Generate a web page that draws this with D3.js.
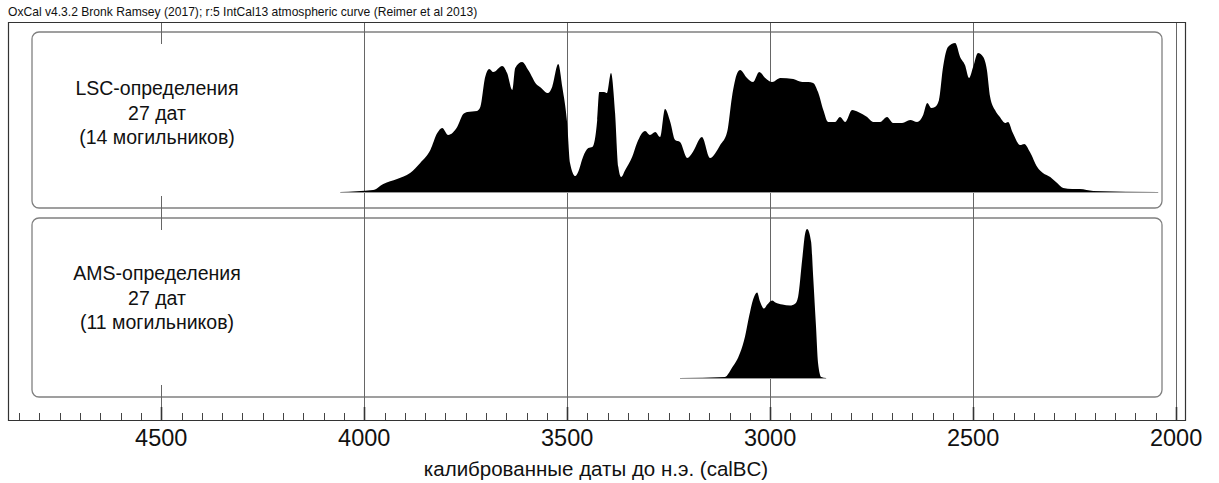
<!DOCTYPE html>
<html><head><meta charset="utf-8">
<script src="https://cdn.jsdelivr.net/npm/d3@7"></script>
<style>body{margin:0;background:#fff}svg{display:block;font-family:"Liberation Sans",Arial,sans-serif}</style>
</head><body><svg id="c" width="1219" height="483"></svg>
<script>
const title = "OxCal v4.3.2 Bronk Ramsey (2017); r:5 IntCal13 atmospheric curve (Reimer et al 2013)";
const axisTitle = "калиброванные даты до н.э. (calBC)";
const majorTicks = [4500, 4000, 3500, 3000, 2500, 2000];
const lscLabel = ["LSC-определения", "27 дат", "(14 могильников)"];
const amsLabel = ["AMS-определения", "27 дат", "(11 могильников)"];
// calBC year, relative probability
const lscYears = [4059,3978,3953,3919,3887,3862,3837,3820,3808,3793,3771,3756,3746,3722,3714,3702,3692,3682,3660,3648,3635,3628,3611,3596,3574,3567,3547,3537,3522,3512,3500,3493,3480,3473,3461,3448,3438,3426,3421,3409,3402,3392,3382,3374,3367,3357,3340,3328,3308,3296,3283,3271,3259,3246,3234,3222,3204,3192,3168,3148,3123,3106,3094,3081,3074,3057,3042,3027,3012,2995,2975,2943,2921,2906,2894,2882,2869,2857,2840,2828,2815,2798,2783,2761,2746,2729,2712,2697,2675,2655,2638,2623,2613,2603,2594,2584,2574,2562,2544,2532,2520,2510,2500,2488,2475,2466,2458,2446,2434,2421,2414,2402,2384,2374,2360,2342,2328,2310,2293,2278,2256,2237,2204,2044];
const lscProb = [0,0.013,0.054,0.087,0.128,0.195,0.282,0.396,0.430,0.383,0.436,0.523,0.537,0.544,0.570,0.772,0.826,0.805,0.846,0.799,0.685,0.832,0.872,0.819,0.718,0.705,0.664,0.705,0.859,0.705,0.463,0.195,0.107,0.134,0.235,0.295,0.302,0.483,0.671,0.671,0.664,0.799,0.530,0.168,0.101,0.148,0.235,0.329,0.409,0.383,0.403,0.369,0.557,0.470,0.349,0.336,0.228,0.262,0.369,0.228,0.315,0.403,0.638,0.799,0.819,0.765,0.738,0.805,0.765,0.738,0.765,0.758,0.738,0.738,0.732,0.671,0.550,0.470,0.470,0.503,0.470,0.550,0.537,0.503,0.470,0.470,0.503,0.463,0.463,0.483,0.470,0.517,0.597,0.564,0.570,0.617,0.839,0.973,1.0,0.906,0.852,0.765,0.839,0.933,0.906,0.819,0.638,0.550,0.503,0.463,0.470,0.396,0.315,0.322,0.268,0.168,0.128,0.101,0.060,0.027,0.020,0.020,0.007,0];
const amsYears = [3222,3111,3094,3074,3062,3052,3042,3032,3025,3015,3007,2995,2987,2970,2951,2938,2931,2921,2914,2909,2899,2894,2887,2882,2874,2862];
const amsProb = [0,0.007,0.068,0.169,0.277,0.412,0.527,0.574,0.514,0.466,0.493,0.520,0.507,0.493,0.486,0.500,0.547,0.797,0.966,1.0,0.912,0.682,0.345,0.101,0.007,0];

const svg = d3.select("#c");
const frameL = 8, frameR = 1185, frameT = 22, axisY = 420;
const x = d3.scaleLinear().domain([4877.5, 1978]).range([frameL, frameR]);
const rows = [
  {label: lscLabel, years: lscYears, prob: lscProb, y0: 32, y1: 208, base: 192, textY: 95},
  {label: amsLabel, years: amsYears, prob: amsProb, y0: 218, y1: 397, base: 378, textY: 280}
];
const boxL = 32, boxR = 1162, maxH = 149;

// title
svg.append("text").attr("x", 8).attr("y", 16).attr("font-size", 12.1).attr("fill", "#111").text(title);

// boxes
rows.forEach(r => {
  svg.append("rect").attr("x", boxL).attr("y", r.y0).attr("width", boxR - boxL).attr("height", r.y1 - r.y0)
    .attr("rx", 7).attr("fill", "#fff").attr("stroke", "#808080").attr("stroke-width", 1.3);
});

// gridlines
svg.append("g").selectAll("line").data(majorTicks).join("line")
  .attr("x1", d => Math.round(x(d)) + 0.5).attr("x2", d => Math.round(x(d)) + 0.5)
  .attr("y1", frameT).attr("y2", axisY).attr("stroke", "#666").attr("stroke-width", 1);

// label backgrounds and labels
rows.forEach(r => {
  svg.append("rect").attr("x", boxL + 2).attr("y", r.y0 + 12).attr("width", 270).attr("height", r.y1 - r.y0 - 24).attr("fill", "#fff");
  svg.append("g").selectAll("text").data(r.label).join("text")
    .attr("x", 157).attr("y", (d, i) => r.textY + i * 24.5)
    .attr("text-anchor", "middle").attr("font-size", 19.5).attr("fill", "#111").text(d => d);
});

// distributions
rows.forEach(r => {
  const data = r.years.map((yr, i) => ({yr, p: r.prob[i]}));
  const yS = d3.scaleLinear().domain([0, 1]).range([r.base, r.base - maxH]);
  svg.append("line").attr("x1", x(r.years[0])).attr("x2", x(r.years[r.years.length - 1]))
    .attr("y1", r.base + 0.5).attr("y2", r.base + 0.5).attr("stroke", "#999").attr("stroke-width", 1);
  const area = d3.area().x(d => x(d.yr)).y0(r.base).y1(d => yS(d.p)).curve(d3.curveMonotoneX);
  svg.append("path").datum(data).attr("d", area).attr("fill", "#000");
});

// frame
svg.append("path").attr("d", `M${frameL + 0.5},${frameT} V${axisY + 0.5} H${frameR + 0.5} V${frameT + 0.5} H${frameL + 0.5}`)
  .attr("fill", "none").attr("stroke", "#333").attr("stroke-width", 1.2);

// axis
const minor = d3.range(4850, 1999, -50).filter(d => d % 500 !== 0);
svg.append("g").selectAll("line").data(minor).join("line")
  .attr("x1", d => Math.round(x(d)) + 0.5).attr("x2", d => Math.round(x(d)) + 0.5)
  .attr("y1", axisY - 7).attr("y2", axisY).attr("stroke", "#444").attr("stroke-width", 1);
svg.append("g").selectAll("line").data(majorTicks).join("line")
  .attr("x1", d => Math.round(x(d)) + 0.5).attr("x2", d => Math.round(x(d)) + 0.5)
  .attr("y1", axisY - 13).attr("y2", axisY).attr("stroke", "#333").attr("stroke-width", 1.6);
svg.append("g").selectAll("text").data(majorTicks).join("text")
  .attr("x", d => x(d)).attr("y", 446).attr("text-anchor", "middle").attr("font-size", 23.5).attr("fill", "#111").text(d => d);
svg.append("text").attr("x", 596).attr("y", 476).attr("text-anchor", "middle").attr("font-size", 20.5).attr("fill", "#111").text(axisTitle);
</script></body></html>
